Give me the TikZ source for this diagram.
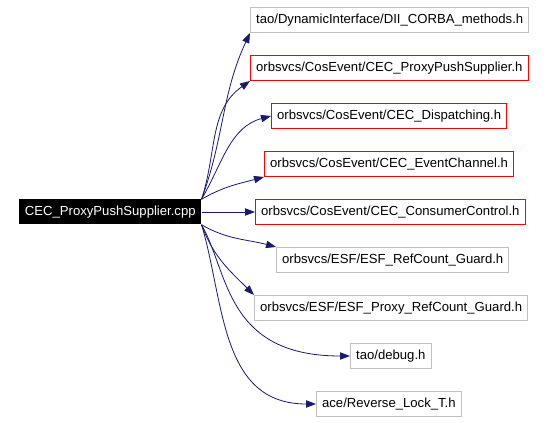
\documentclass[tikz,border=0pt]{standalone}
\usepackage{fontspec}
\setmainfont{Liberation Sans}
\usetikzlibrary{arrows.meta, positioning}
\definecolor{edgeblue}{HTML}{191970}
\definecolor{boxgray}{HTML}{BFBFBF}

\begin{document}
\begin{tikzpicture}[
        x=0.75pt, y=0.75pt,
        font=\fontsize{9.85}{12}\selectfont,
        file/.style={rectangle, draw=boxgray, line width=0.75pt, minimum height=18.75pt, inner xsep=4.2pt, inner ysep=0pt, anchor=west},
        docfile/.style={file, draw=red},
        root/.style={rectangle, fill=black, text=white, minimum height=18.75pt, inner xsep=4.2pt, inner ysep=0pt, anchor=west},
        dep/.style={-{Triangle[length=7.5pt, width=5.5pt]}, color=edgeblue, line width=0.6pt}
    ]
        \useasboundingbox (0,0) rectangle (547,422);
        \node[root] (src) at (19,210) {CEC\_ProxyPushSupplier.cpp};
        \node[file] (dii) at (250,402) {tao/DynamicInterface/DII\_CORBA\_methods.h};
        \node[docfile] (pps) at (250,354) {orbsvcs/CosEvent/CEC\_ProxyPushSupplier.h};
        \node[docfile] (disp) at (271,306) {orbsvcs/CosEvent/CEC\_Dispatching.h};
        \node[docfile] (chan) at (264,258) {orbsvcs/CosEvent/CEC\_EventChannel.h};
        \node[docfile] (ctrl) at (255,210) {orbsvcs/CosEvent/CEC\_ConsumerControl.h};
        \node[file] (guard) at (276,162) {orbsvcs/ESF/ESF\_RefCount\_Guard.h};
        \node[file] (pguard) at (254,114) {orbsvcs/ESF/ESF\_Proxy\_RefCount\_Guard.h};
        \node[file] (dbg) at (350,66) {tao/debug.h};
        \node[file] (rlock) at (316,18) {ace/Reverse\_Lock\_T.h};
        % edges out of the .cpp file
        \draw[dep] (src.north east) to[out=70, in=245] (dii.south west);
        \draw[dep] (src.north east) to[out=72, in=215] (pps.south west);
        \draw[dep] (src.north east) to[out=60, in=195] (disp.west);
        \draw[dep] (src.north east) to[out=30, in=195] (chan.south west);
        \draw[dep] (src.east) -- (ctrl.west);
        \draw[dep] (src.south east) to[out=-30, in=165] (guard.north west);
        \draw[dep] (src.south east) to[out=-70, in=135] (pguard.north west);
        \draw[dep] (src.south east) .. controls +(27,-47) and +(-125,0) .. (dbg.west);
        \draw[dep] (src.south east) .. controls +(23,-77) and +(-96,0) .. (rlock.west);
    \end{tikzpicture}
\end{document}
